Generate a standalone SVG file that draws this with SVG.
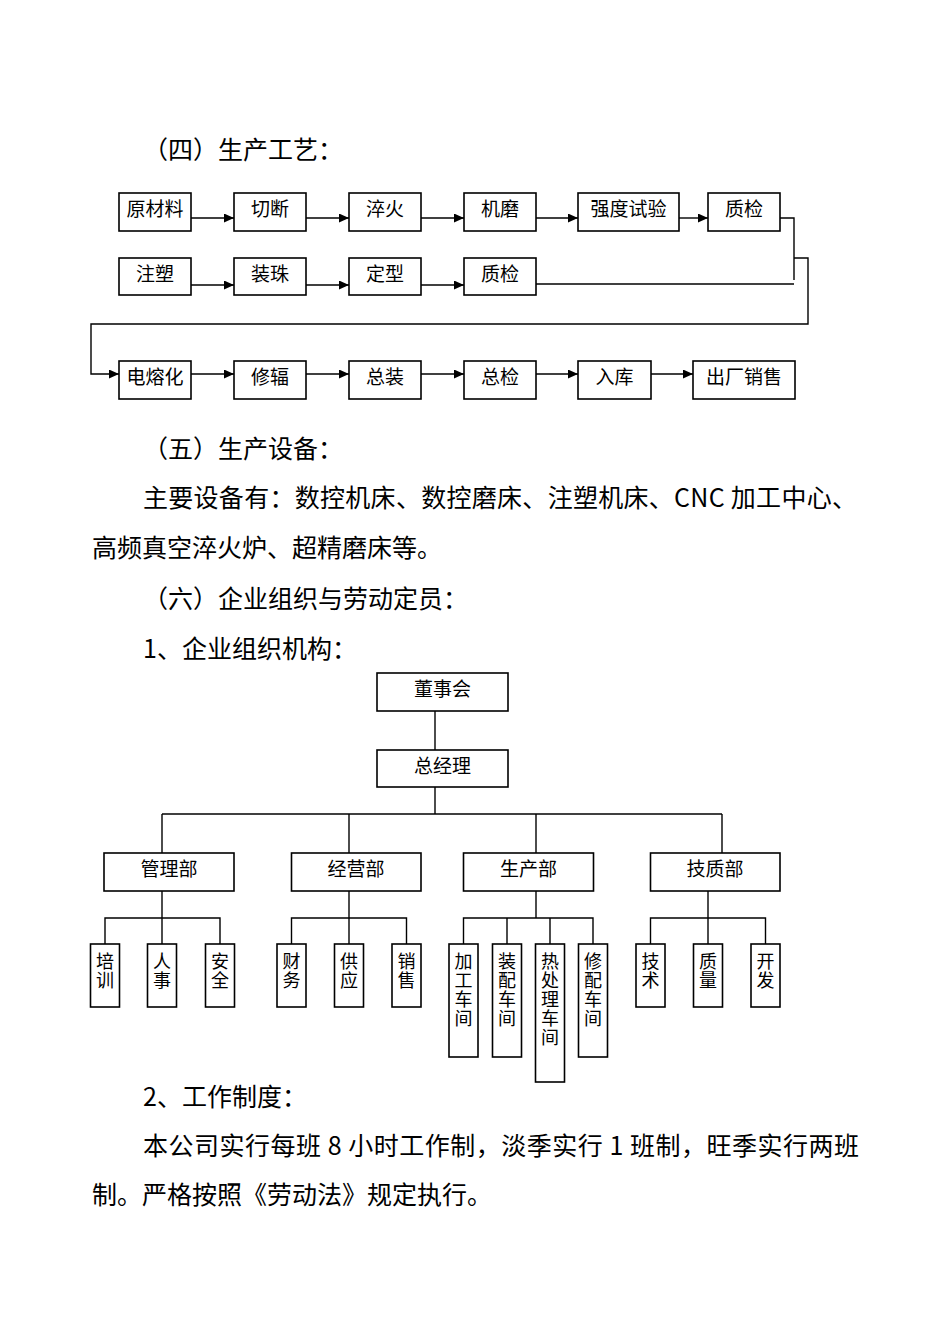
<svg xmlns="http://www.w3.org/2000/svg" width="950" height="1344" viewBox="0 0 950 1344">
<defs>
<style>
.p{font-family:"Noto Sans CJK SC","Noto Sans CJK JP",sans-serif;font-size:25px;fill:#000}
.t{font-family:"Noto Sans CJK SC","Noto Sans CJK JP",sans-serif;font-size:19px;fill:#000;text-anchor:middle}
.v{font-family:"Noto Sans CJK SC","Noto Sans CJK JP",sans-serif;font-size:18px;fill:#000;writing-mode:vertical-rl;letter-spacing:1px}
.b{fill:#fff;stroke:#000;stroke-width:1.6}
.c{fill:none;stroke:#000;stroke-width:1.4}
</style>
<marker id="ah" markerUnits="userSpaceOnUse" markerWidth="11" markerHeight="10" refX="10" refY="4.5" orient="auto">
<path d="M0,0 L10,4.5 L0,9 Z" fill="#000"/>
</marker>
</defs>
<rect width="950" height="1344" fill="#fff"/>

<g id="paragraphs">
<text class="p" x="143" y="159">（四）生产工艺：</text>
<text class="p" x="143" y="458">（五）生产设备：</text>
<text class="p" x="143" y="507" textLength="714" lengthAdjust="spacing">主要设备有：数控机床、数控磨床、注塑机床、CNC 加工中心、</text>
<text class="p" x="92" y="557">高频真空淬火炉、超精磨床等。</text>
<text class="p" x="143" y="608">（六）企业组织与劳动定员：</text>
<text class="p" x="143" y="658">1、企业组织机构：</text>
<text class="p" x="143" y="1106">2、工作制度：</text>
<text class="p" x="143" y="1155" textLength="716" lengthAdjust="spacing">本公司实行每班 8 小时工作制，淡季实行 1 班制，旺季实行两班</text>
<text class="p" x="92" y="1204">制。严格按照《劳动法》规定执行。</text>
</g>

<g id="connectors">
<line class="c" x1="191" y1="218" x2="234" y2="218" marker-end="url(#ah)"/>
<line class="c" x1="306" y1="218" x2="349" y2="218" marker-end="url(#ah)"/>
<line class="c" x1="421" y1="218" x2="464" y2="218" marker-end="url(#ah)"/>
<line class="c" x1="536" y1="218" x2="578" y2="218" marker-end="url(#ah)"/>
<line class="c" x1="679" y1="218" x2="708" y2="218" marker-end="url(#ah)"/>
<line class="c" x1="191" y1="285" x2="234" y2="285" marker-end="url(#ah)"/>
<line class="c" x1="306" y1="285" x2="349" y2="285" marker-end="url(#ah)"/>
<line class="c" x1="421" y1="285" x2="464" y2="285" marker-end="url(#ah)"/>
<line class="c" x1="536" y1="284" x2="794" y2="284"/>
<polyline class="c" points="780,218 794,218 794,280"/>
<polyline class="c" points="794,258 808,258 808,324 91,324 91,374 119,374" marker-end="url(#ah)"/>
<line class="c" x1="191" y1="374" x2="234" y2="374" marker-end="url(#ah)"/>
<line class="c" x1="306" y1="374" x2="349" y2="374" marker-end="url(#ah)"/>
<line class="c" x1="421" y1="374" x2="464" y2="374" marker-end="url(#ah)"/>
<line class="c" x1="536" y1="374" x2="578" y2="374" marker-end="url(#ah)"/>
<line class="c" x1="651" y1="374" x2="693" y2="374" marker-end="url(#ah)"/>
<line class="c" x1="435" y1="711" x2="435" y2="750"/>
<line class="c" x1="435" y1="787" x2="435" y2="814"/>
<line class="c" x1="162" y1="814" x2="722" y2="814"/>
<line class="c" x1="162" y1="814" x2="162" y2="853"/>
<line class="c" x1="349" y1="814" x2="349" y2="853"/>
<line class="c" x1="536" y1="814" x2="536" y2="853"/>
<line class="c" x1="722" y1="814" x2="722" y2="853"/>
<line class="c" x1="162" y1="891" x2="162" y2="944"/>
<polyline class="c" points="105,944 105,918 220,918 220,944"/>
<line class="c" x1="349" y1="891" x2="349" y2="944"/>
<polyline class="c" points="291.5,944 291.5,918 406.5,918 406.5,944"/>
<line class="c" x1="536" y1="891" x2="536" y2="918"/>
<polyline class="c" points="463.5,944 463.5,918 593,918 593,944"/>
<line class="c" x1="507" y1="918" x2="507" y2="944"/>
<line class="c" x1="550" y1="918" x2="550" y2="944"/>
<line class="c" x1="708" y1="891" x2="708" y2="944"/>
<polyline class="c" points="650.5,944 650.5,918 765.5,918 765.5,944"/>
</g>

<g id="p-yuancailiao"><rect class="b" x="119" y="193" width="72" height="38"/><text class="t" x="155" y="216">原材料</text></g>
<g id="p-qieduan"><rect class="b" x="234" y="193" width="72" height="38"/><text class="t" x="270" y="216">切断</text></g>
<g id="p-cuihuo"><rect class="b" x="349" y="193" width="72" height="38"/><text class="t" x="385" y="216">淬火</text></g>
<g id="p-jimo"><rect class="b" x="464" y="193" width="72" height="38"/><text class="t" x="500" y="216">机磨</text></g>
<g id="p-qiangdu"><rect class="b" x="578" y="193" width="101" height="38"/><text class="t" x="628.5" y="216">强度试验</text></g>
<g id="p-zhijian1"><rect class="b" x="708" y="193" width="72" height="38"/><text class="t" x="744" y="216">质检</text></g>

<g id="p-zhusu"><rect class="b" x="119" y="258" width="72" height="37"/><text class="t" x="155" y="281">注塑</text></g>
<g id="p-zhuangzhu"><rect class="b" x="234" y="258" width="72" height="37"/><text class="t" x="270" y="281">装珠</text></g>
<g id="p-dingxing"><rect class="b" x="349" y="258" width="72" height="37"/><text class="t" x="385" y="281">定型</text></g>
<g id="p-zhijian2"><rect class="b" x="464" y="258" width="72" height="37"/><text class="t" x="500" y="281">质检</text></g>

<g id="p-dianronghua"><rect class="b" x="119" y="361" width="72" height="38"/><text class="t" x="155" y="384">电熔化</text></g>
<g id="p-xiufu"><rect class="b" x="234" y="361" width="72" height="38"/><text class="t" x="270" y="384">修辐</text></g>
<g id="p-zongzhuang"><rect class="b" x="349" y="361" width="72" height="38"/><text class="t" x="385" y="384">总装</text></g>
<g id="p-zongjian"><rect class="b" x="464" y="361" width="72" height="38"/><text class="t" x="500" y="384">总检</text></g>
<g id="p-ruku"><rect class="b" x="578" y="361" width="73" height="38"/><text class="t" x="614.5" y="384">入库</text></g>
<g id="p-chuchang"><rect class="b" x="693" y="361" width="102" height="38"/><text class="t" x="744" y="384">出厂销售</text></g>

<g id="o-dongshihui"><rect class="b" x="377" y="673" width="131" height="38"/><text class="t" x="442.5" y="696">董事会</text></g>
<g id="o-zongjingli"><rect class="b" x="377" y="750" width="131" height="37"/><text class="t" x="442.5" y="773">总经理</text></g>
<g id="o-guanli"><rect class="b" x="104" y="853" width="130" height="38"/><text class="t" x="169" y="876">管理部</text></g>
<g id="o-jingying"><rect class="b" x="291.5" y="853" width="129.5" height="38"/><text class="t" x="356" y="876">经营部</text></g>
<g id="o-shengchan"><rect class="b" x="463.5" y="853" width="130" height="38"/><text class="t" x="528.5" y="876">生产部</text></g>
<g id="o-jizhi"><rect class="b" x="650.5" y="853" width="129.5" height="38"/><text class="t" x="715" y="876">技质部</text></g>

<g id="o-peixun"><rect class="b" x="90.5" y="944" width="29" height="63"/><text class="v" x="105" y="952">培训</text></g>
<g id="o-renshi"><rect class="b" x="147.5" y="944" width="29" height="63"/><text class="v" x="162" y="952">人事</text></g>
<g id="o-anquan"><rect class="b" x="205.5" y="944" width="29" height="63"/><text class="v" x="220" y="952">安全</text></g>
<g id="o-caiwu"><rect class="b" x="277" y="944" width="29" height="63"/><text class="v" x="291.5" y="952">财务</text></g>
<g id="o-gongying"><rect class="b" x="334.5" y="944" width="29" height="63"/><text class="v" x="349" y="952">供应</text></g>
<g id="o-xiaoshou"><rect class="b" x="392" y="944" width="29" height="63"/><text class="v" x="406.5" y="952">销售</text></g>
<g id="o-jiagong"><rect class="b" x="449" y="944" width="29" height="113"/><text class="v" x="463.5" y="952">加工车间</text></g>
<g id="o-zhuangpei"><rect class="b" x="492.5" y="944" width="29" height="113"/><text class="v" x="507" y="952">装配车间</text></g>
<g id="o-rechuli"><rect class="b" x="535.5" y="944" width="29" height="138"/><text class="v" x="550" y="952">热处理车间</text></g>
<g id="o-xiupei"><rect class="b" x="578.5" y="944" width="29" height="113"/><text class="v" x="593" y="952">修配车间</text></g>
<g id="o-jishu"><rect class="b" x="636" y="944" width="29" height="63"/><text class="v" x="650.5" y="952">技术</text></g>
<g id="o-zhiliang"><rect class="b" x="693.5" y="944" width="29" height="63"/><text class="v" x="708" y="952">质量</text></g>
<g id="o-kaifa"><rect class="b" x="751" y="944" width="29" height="63"/><text class="v" x="765.5" y="952">开发</text></g>
</svg>
